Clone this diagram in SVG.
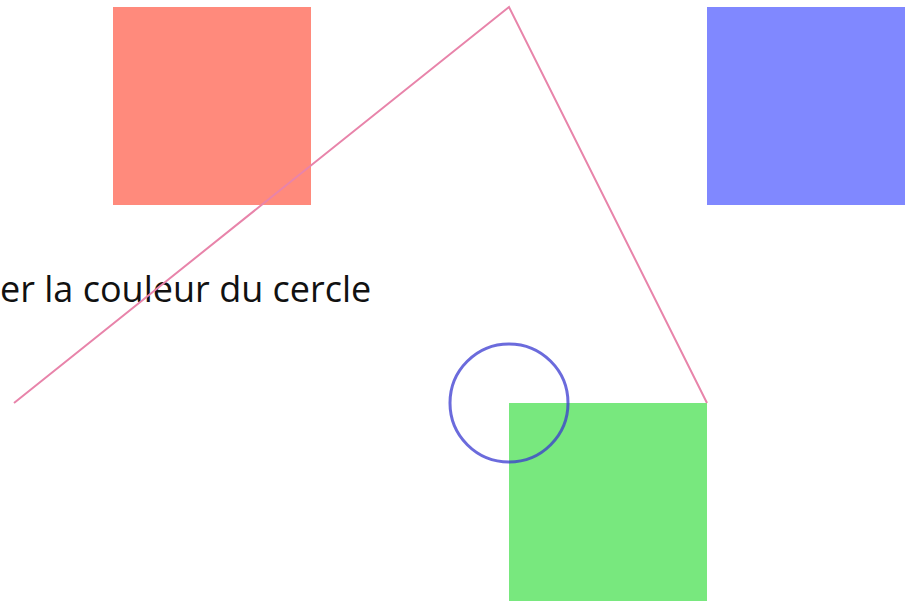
<svg xmlns="http://www.w3.org/2000/svg" width="911" height="603" viewBox="0 0 911 603">
<style>
.sq{stroke:none}
.lbl{font-family:"Open Sans","Noto Sans",sans-serif;font-size:36px;fill:#111}
</style>
<rect width="911" height="603" fill="#fff"/>
<g id="red"><rect class="sq" x="113" y="7" width="198" height="198" fill="#ff8a7c"/></g>
<g id="blue"><rect class="sq" x="707" y="7" width="198" height="198" fill="#8088ff"/></g>
<g id="green"><rect class="sq" x="509" y="403" width="198" height="198" fill="#78e87e"/></g>
<g id="label"><text class="lbl" x="0" y="302">er la couleur du cercle</text></g>
<g id="connectors"><polyline points="14,403 509,7 707,403" fill="none" stroke="#e884aa" stroke-width="2"/></g>
<g id="circle"><circle cx="509" cy="403" r="59" fill="none" stroke="#3a3ad0" stroke-opacity="0.75" stroke-width="3"/></g>
</svg>
